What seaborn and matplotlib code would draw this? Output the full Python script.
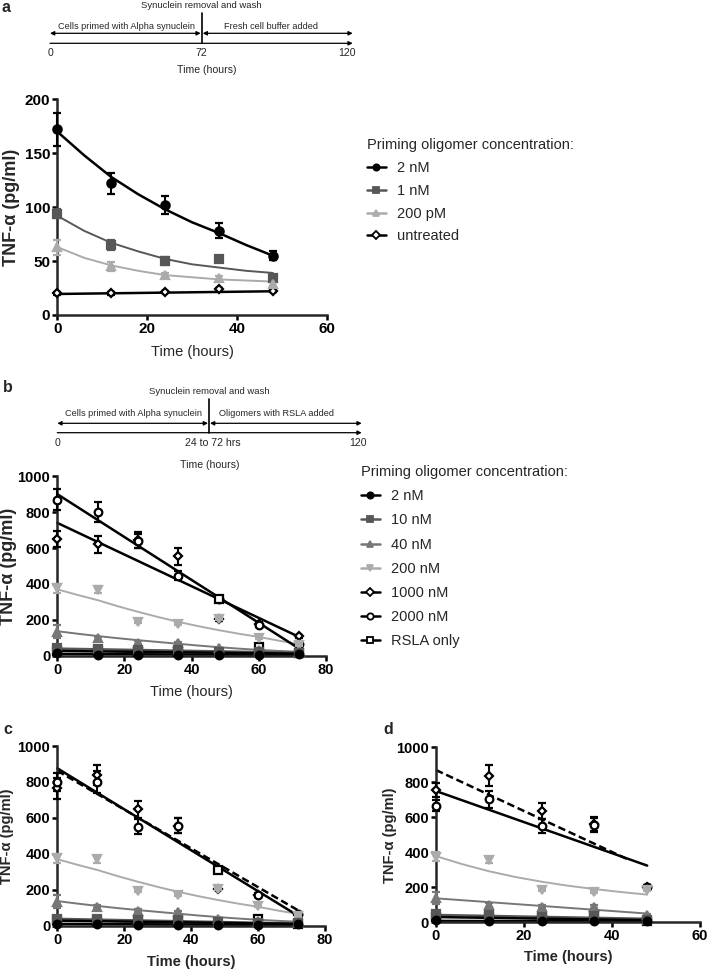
import numpy as np
import matplotlib
matplotlib.use("Agg")
import matplotlib.pyplot as plt
import seaborn as sns
from matplotlib.lines import Line2D

# ---------------- data ----------------
# panel a: cells primed 72 h, then fresh buffer
TIME_A = [0, 12, 24, 36, 48]
A_2NM = [172, 122, 102, 78, 55]
A_2NM_ERR = [15, 10, 8.5, 7, 4]
A_1NM = [94, 65, 50, 52, 34]
A_1NM_ERR = [4, 5, 4, 3, 2]
A_200PM = [63, 45, 37, 34, 29]
A_200PM_ERR = [7, 4, 2, 2, 2]
A_UNTREATED = [20, 20, 21, 24, 22]
A_UNTREATED_ERR = [1, 1, 1, 1, 1]

# fitted decay curves of panel a (read every 6 h)
CURVE_T_A = [0, 6, 12, 18, 24, 30, 36, 42, 48]
A_2NM_FIT = [170, 148, 128, 112, 98, 86, 76, 65, 55]
A_1NM_FIT = [92, 78, 67, 59, 52, 47, 44, 41, 39]
A_200PM_FIT = [63, 53, 46, 41, 37, 35, 33, 32, 31]
A_UNTREATED_FIT_T = [0, 48]
A_UNTREATED_FIT = [19.5, 22]

# panel b: oligomers with RSLA added
TIME_B = [0, 12, 24, 36, 48, 60, 72]
B_2NM = [13, 7, 6, 7, 5, 4, 10]
B_10NM = [41, 38, 32, 32, 22, 20, 18]
B_40NM = [134, 97, 72, 69, 41, 30, 20]
B_200NM = [375, 369, 186, 176, 205, 100, 60]
B_1000NM = [650, 621, 644, 555, 204, 176, 109]
B_2000NM = [870, 801, 638, 447, 315, 171, 63]
B_RSLA = [26, 27, 22, 20, 315, 50, 15]
B_2NM_ERR = [4, 3, 3, 3, 3, 3, 3]
B_10NM_ERR = [10, 5, 5, 5, 5, 5, 5]
B_40NM_ERR = [35, 10, 8, 8, 5, 5, 5]
B_200NM_ERR = [25, 18, 5, 5, 5, 5, 5]
B_1000NM_ERR = [45, 47, 45, 47, 8, 10, 8]
B_2000NM_ERR = [60, 55, 40, 25, 10, 10, 8]
B_RSLA_ERR = [5, 5, 5, 5, 5, 5, 5]

CURVE_T_B = [0, 6, 12, 18, 24, 30, 36, 42, 48, 54, 60, 66, 72]
B_200NM_FIT = [370, 339, 310, 276, 245, 216, 189, 165, 143, 123, 105, 84, 65]
B_40NM_FIT = [137, 123, 110, 98, 87, 77, 67, 57, 48, 40, 33, 27, 22]
LINE_T_B = [0, 72]
B_2NM_FIT = [10, 5]
B_10NM_FIT = [40, 17]
B_RSLA_FIT = [27, 12]
B_1000NM_FIT = [740, 105]
B_2000NM_FIT = [900, 40]

# panel c
C_2NM = [12, 8, 6, 6, 5, 5, 8]
C_10NM = [40, 35, 32, 30, 20, 15, 15]
C_40NM = [134, 106, 83, 74, 40, 25, 20]
C_200NM = [375, 369, 195, 169, 205, 109, 56]
C_1000NM = [764, 838, 647, 557, 204, 170, 60]
C_2000NM = [801, 801, 551, 557, 313, 171, 65]
C_RSLA = [30, 28, 25, 22, 310, 40, 10]
C_1000NM_ERR = [60, 55, 45, 40, 8, 8, 8]
C_2000NM_ERR = [50, 60, 40, 40, 10, 10, 8]
C_2NM_FIT = [10, 4]
C_10NM_FIT = [38, 12]
C_RSLA_FIT = [28, 10]
C_SOLID_FIT = [876, 55]
C_DASHED_FIT = [862, 85]

# panel d
TIME_D = [0, 12, 24, 36, 48]
D_2NM = [12, 5, 5, 8, 8]
D_10NM = [45, 40, 30, 35, 15]
D_40NM = [137, 99, 90, 90, 40]
D_200NM = [375, 356, 185, 175, 185]
D_1000NM = [756, 838, 638, 560, 204]
D_2000NM = [667, 703, 552, 557, 204]
D_RSLA = [30, 30, 25, 42, 10]
D_SMALL_ERR = [5, 5, 5, 5, 5]
D_40NM_ERR = [35, 10, 8, 8, 5]
D_200NM_ERR = [25, 18, 5, 5, 5]
D_1000NM_ERR = [40, 60, 45, 40, 10]
D_2000NM_ERR = [30, 50, 40, 40, 10]
CURVE_T_D = [0, 6, 12, 18, 24, 30, 36, 42, 48]
D_200NM_FIT = [378, 332, 292, 259, 232, 209, 190, 173, 158]
LINE_T_D = [0, 48]
D_2NM_FIT = [8, 5]
D_10NM_FIT = [42, 20]
D_40NM_FIT = [137, 50]
D_RSLA_FIT = [30, 12]
D_SOLID_FIT = [750, 324]
D_DASHED_T = [0, 44]
D_DASHED_FIT = [870, 355]

LEGEND_TITLE = "Priming oligomer concentration:"
A_LABELS = ["2 nM", "1 nM", "200 pM", "untreated"]
B_LABELS = ["2 nM", "10 nM", "40 nM", "200 nM", "1000 nM", "2000 nM", "RSLA only"]

# ---------------- styling ----------------
BLACK, DARK, MID, LIGHT = "#000000", "#575757", "#777777", "#ababab"
STYLE = {
    "2 nM": ("o", BLACK, BLACK, 5),
    "1 nM": ("s", DARK, DARK, 4),
    "200 pM": ("^", LIGHT, LIGHT, 4),
    "untreated": ("D", BLACK, "white", 3),
    "10 nM": ("s", DARK, DARK, 4),
    "40 nM": ("^", MID, MID, 4),
    "200 nM": ("v", LIGHT, LIGHT, 4),
    "1000 nM": ("D", BLACK, "white", 3),
    "2000 nM": ("o", BLACK, "white", 3),
    "RSLA only": ("s", BLACK, "white", 3),
}

sns.set_theme(style="ticks")
plt.rcParams["font.family"] = ["Liberation Sans", "DejaVu Sans"]

W, H = 708, 971
fig = plt.figure(figsize=(W / 100, H / 100), dpi=100)


def px_axes(x0, top, x1, bottom):
    return fig.add_axes([x0 / W, 1 - bottom / H, (x1 - x0) / W, (bottom - top) / H])


def draw_points(ax, t, y, err, label, ms=5.5):
    marker, color, face, z = STYLE[label]
    cont = ax.errorbar(t, y, yerr=err, fmt=marker, ms=ms, mfc=face, mec=color,
                       mew=1.6, ecolor=color, elinewidth=1.5, capsize=3,
                       capthick=1.5, zorder=z)
    for art in cont.get_children():
        art.set_clip_on(False)


def draw_fit(ax, t, y, color, lw=1.8, ls="-"):
    sns.lineplot(x=t, y=y, ax=ax, color=color, linewidth=lw, linestyle=ls,
                 legend=False, zorder=2, clip_on=False)


def style_axes(ax, xmax, xstep, ymax, ystep, size, xlabel_bold):
    ax.set_xlim(0, xmax)
    ax.set_ylim(0, ymax)
    ax.set_xticks(np.arange(0, xmax + 1, xstep))
    ax.set_yticks(np.arange(0, ymax + 1, ystep))
    sns.despine(ax=ax)
    for s in ["left", "bottom"]:
        ax.spines[s].set_linewidth(1.8)
    ax.tick_params(width=1.8, length=3.5, labelsize=size, pad=1.5, colors="black")
    for lbl in ax.get_xticklabels() + ax.get_yticklabels():
        lbl.set_fontweight("bold")
    ax.set_xlabel("Time (hours)", fontsize=10.5,
                  fontweight="bold" if xlabel_bold else "normal")
    ax.xaxis.label.set_va("center")


def set_ylabel(ax, text, size, x_px, ax_left, ax_width):
    ax.set_ylabel(text, fontsize=size, fontweight="bold")
    ax.yaxis.label.set_va("center")
    ax.yaxis.set_label_coords((x_px - ax_left) / ax_width, 0.5)


def make_legend(ax, labels, x_px, y_px, spacing):
    handles = []
    for lab in labels:
        marker, color, face, _ = STYLE[lab]
        handles.append(Line2D([], [], color=color, marker=marker, mfc=face, mec=color,
                              ms=4.5, lw=1.8, mew=1.3))
    leg = ax.legend(handles, labels, title=LEGEND_TITLE, loc="upper left",
                    bbox_to_anchor=(x_px / W, 1 - y_px / H), bbox_transform=fig.transFigure,
                    frameon=False, fontsize=10.5, title_fontsize=10.5, borderpad=0,
                    borderaxespad=0, handlelength=1.3, handletextpad=0.8,
                    labelspacing=spacing, alignment="left")
    return leg


# ---------------- overlay for timelines and panel letters ----------------
ov = fig.add_axes([0, 0, 1, 1])
ov.set_xlim(0, W)
ov.set_ylim(H, 0)
ov.axis("off")


def arrow(x0, x1, y, style):
    ov.annotate("", xy=(x1, y), xytext=(x0, y),
                arrowprops=dict(arrowstyle=style, lw=0.9, color="black",
                                mutation_scale=6, shrinkA=0, shrinkB=0))


def timeline(g, ticks, phases, event):
    arrow(g["x0"], g["x1"], g["y_axis"], "-|>")
    arrow(g["x0"], g["xm"] - 1, g["y_arrow"], "<|-|>")
    arrow(g["xm"] + 1, g["x1"], g["y_arrow"], "<|-|>")
    ov.plot([g["xm"], g["xm"]], [g["y_vtop"], g["y_axis"]], color="black", lw=1.2)
    ov.text(g["xm"], g["y_event"], event, ha="center", va="center", fontsize=6.8)
    for txt, x in zip(phases, g["phase_x"]):
        ov.text(x, g["y_phase"], txt, ha="center", va="center", fontsize=6.6)
    for txt, x in zip(ticks, g["tick_x"]):
        ov.text(x, g["y_ticks"], txt, ha="center", va="center", fontsize=7.6)
    ov.text(g["title_x"], g["y_title"], "Time (hours)", ha="center", va="center", fontsize=7.6)


timeline(dict(x0=50, xm=201.7, x1=352.7, y_axis=43.3, y_arrow=33.3, y_vtop=12.7,
              y_event=5, y_phase=26.2, y_ticks=53, y_title=70, title_x=206.7,
              phase_x=[126.7, 270.7], tick_x=[50, 201.7, 347]),
         ["0", "72", "120"],
         ["Cells primed with Alpha synuclein", "Fresh cell buffer added"],
         "Synuclein removal and wash")
timeline(dict(x0=57.3, xm=209, x1=361.7, y_axis=432.7, y_arrow=423.3, y_vtop=399,
              y_event=391.7, y_phase=414, y_ticks=443, y_title=465, title_x=210,
              phase_x=[133.3, 276.7], tick_x=[57.3, 213.3, 358.3]),
         ["0", "24 to 72 hrs", "120"],
         ["Cells primed with Alpha synuclein", "Oligomers with RSLA added"],
         "Synuclein removal and wash")

for letter, x, y in [("a", 6, 7), ("b", 8.3, 387), ("c", 8.3, 730), ("d", 388.3, 730)]:
    ov.text(x, y, letter, ha="center", va="center", fontsize=11.5, fontweight="bold")

# ---------------- panel a ----------------
axa = px_axes(57.3, 99.3, 326.7, 315)
draw_fit(axa, CURVE_T_A, A_2NM_FIT, BLACK)
draw_fit(axa, CURVE_T_A, A_1NM_FIT, DARK, lw=1.4)
draw_fit(axa, CURVE_T_A, A_200PM_FIT, LIGHT, lw=1.4)
draw_fit(axa, A_UNTREATED_FIT_T, A_UNTREATED_FIT, BLACK)
draw_points(axa, TIME_A, A_2NM, A_2NM_ERR, "2 nM", ms=6)
draw_points(axa, TIME_A, A_1NM, A_1NM_ERR, "1 nM", ms=6)
draw_points(axa, TIME_A, A_200PM, A_200PM_ERR, "200 pM", ms=6)
draw_points(axa, TIME_A, A_UNTREATED, A_UNTREATED_ERR, "untreated", ms=4.5)
style_axes(axa, 60, 20, 200, 50, 11, False)
axa.xaxis.set_label_coords(0.5, -(351.7 - 315) / 215.7)
set_ylabel(axa, "TNF-α (pg/ml)", 13, 11.7, 57.3, 269.4)
make_legend(axa, A_LABELS, 366.7, 138.5, 0.6)

# ---------------- panel b ----------------
axb = px_axes(57.3, 476.2, 326, 655.8)
draw_fit(axb, CURVE_T_B, B_200NM_FIT, LIGHT, lw=1.4)
draw_fit(axb, CURVE_T_B, B_40NM_FIT, MID, lw=1.4)
draw_fit(axb, LINE_T_B, B_10NM_FIT, DARK)
draw_fit(axb, LINE_T_B, B_RSLA_FIT, BLACK)
draw_fit(axb, LINE_T_B, B_2NM_FIT, BLACK)
draw_fit(axb, LINE_T_B, B_1000NM_FIT, BLACK)
draw_fit(axb, LINE_T_B, B_2000NM_FIT, BLACK)
draw_points(axb, TIME_B, B_1000NM, B_1000NM_ERR, "1000 nM", ms=4.5)
draw_points(axb, TIME_B, B_2000NM, B_2000NM_ERR, "2000 nM")
draw_points(axb, TIME_B, B_RSLA, B_RSLA_ERR, "RSLA only")
draw_points(axb, TIME_B, B_200NM, B_200NM_ERR, "200 nM")
draw_points(axb, TIME_B, B_40NM, B_40NM_ERR, "40 nM")
draw_points(axb, TIME_B, B_10NM, B_10NM_ERR, "10 nM")
draw_points(axb, TIME_B, B_2NM, B_2NM_ERR, "2 nM")
style_axes(axb, 80, 20, 1000, 200, 10.5, False)
axb.xaxis.set_label_coords(0.5, -(691.7 - 655.8) / 179.6)
set_ylabel(axb, "TNF-α (pg/ml)", 13, 9, 57.3, 268.7)
make_legend(axb, B_LABELS, 360.7, 465, 0.7)

# ---------------- panel c ----------------
axc = px_axes(57.3, 746, 325, 925.7)
draw_fit(axc, CURVE_T_B, B_200NM_FIT, LIGHT, lw=1.4)
draw_fit(axc, CURVE_T_B, B_40NM_FIT, MID, lw=1.4)
draw_fit(axc, LINE_T_B, C_10NM_FIT, DARK)
draw_fit(axc, LINE_T_B, C_RSLA_FIT, BLACK)
draw_fit(axc, LINE_T_B, C_2NM_FIT, BLACK)
draw_fit(axc, LINE_T_B, C_DASHED_FIT, BLACK, ls=(0, (3, 1.5)))
draw_fit(axc, LINE_T_B, C_SOLID_FIT, BLACK)
draw_points(axc, TIME_B, C_1000NM, C_1000NM_ERR, "1000 nM", ms=4.5)
draw_points(axc, TIME_B, C_2000NM, C_2000NM_ERR, "2000 nM")
draw_points(axc, TIME_B, C_RSLA, B_RSLA_ERR, "RSLA only")
draw_points(axc, TIME_B, C_200NM, B_200NM_ERR, "200 nM")
draw_points(axc, TIME_B, C_40NM, B_40NM_ERR, "40 nM")
draw_points(axc, TIME_B, C_10NM, B_10NM_ERR, "10 nM")
draw_points(axc, TIME_B, C_2NM, B_2NM_ERR, "2 nM")
style_axes(axc, 80, 20, 1000, 200, 10.5, True)
axc.xaxis.set_label_coords(0.5, -(961.7 - 925.7) / 179.7)
set_ylabel(axc, "TNF-α (pg/ml)", 10.5, 7.5, 57.3, 267.7)

# ---------------- panel d ----------------
axd = px_axes(436, 747.3, 700, 922.3)
draw_fit(axd, CURVE_T_D, D_200NM_FIT, LIGHT, lw=1.4)
draw_fit(axd, LINE_T_D, D_40NM_FIT, MID, lw=1.4)
draw_fit(axd, LINE_T_D, D_10NM_FIT, DARK)
draw_fit(axd, LINE_T_D, D_RSLA_FIT, BLACK)
draw_fit(axd, LINE_T_D, D_2NM_FIT, BLACK)
draw_fit(axd, D_DASHED_T, D_DASHED_FIT, BLACK, ls=(0, (3, 1.5)))
draw_fit(axd, LINE_T_D, D_SOLID_FIT, BLACK)
draw_points(axd, TIME_D, D_1000NM, D_1000NM_ERR, "1000 nM", ms=4.5)
draw_points(axd, TIME_D, D_2000NM, D_2000NM_ERR, "2000 nM")
draw_points(axd, TIME_D, D_RSLA, D_SMALL_ERR, "RSLA only")
draw_points(axd, TIME_D, D_200NM, D_200NM_ERR, "200 nM")
draw_points(axd, TIME_D, D_40NM, D_40NM_ERR, "40 nM")
draw_points(axd, TIME_D, D_10NM, D_SMALL_ERR, "10 nM")
draw_points(axd, TIME_D, D_2NM, D_SMALL_ERR, "2 nM")
style_axes(axd, 60, 20, 1000, 200, 10.5, True)
axd.xaxis.set_label_coords(0.5, -(956.7 - 922.3) / 175)
set_ylabel(axd, "TNF-α (pg/ml)", 10.5, 390, 436, 264)

fig.savefig("out.png", dpi=100)
